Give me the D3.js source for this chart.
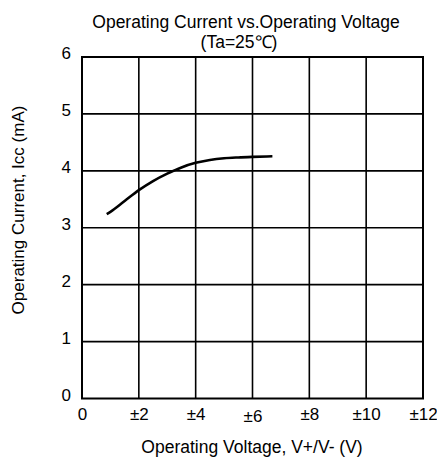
<!DOCTYPE html>
<html>
<head>
<meta charset="utf-8">
<script src="https://cdn.jsdelivr.net/npm/d3@7"></script>
<style>
  html, body { margin: 0; padding: 0; background: #fff; }
  svg { display: block; font-family: Arial, "Liberation Sans", sans-serif; }
</style>
</head>
<body>
<svg id="chart" width="437" height="459"></svg>
<script>
// ---- data ----
const titleLines = ["Operating Current vs.Operating Voltage", "(Ta=25\u2103)"];
const xTickValues = [0, 2, 4, 6, 8, 10, 12];
const xTickLabels = ["0", "\u00b12", "\u00b14", "\u00b16", "\u00b18", "\u00b110", "\u00b112"];
const yTickValues = [0, 1, 2, 3, 4, 5, 6];
const voltage = [0.87, 1.0, 1.5, 2.0, 2.5, 3.0, 3.5, 4.0, 4.5, 5.0, 5.5, 6.0, 6.7];
const current = [3.24, 3.28, 3.47, 3.66, 3.82, 3.95, 4.06, 4.14, 4.19, 4.22, 4.235, 4.245, 4.255];
const xLabel = "Operating Voltage, V+/V- (V)";
const yLabel = "Operating Current, Icc (mA)";

// ---- layout ----
const svg = d3.select("#chart");
const L = 82, R = 423, T = 57, B = 398.5;
const x = d3.scaleLinear().domain([0, 12]).range([L, R]);
const y = d3.scaleLinear().domain([0, 6]).range([B, T]);
const FONT = "Arial, 'Liberation Sans', sans-serif";

// grid
const grid = svg.append("g").attr("stroke", "#000").attr("stroke-width", 1.6);
grid.selectAll("line.v").data(xTickValues.slice(1, -1)).enter().append("line")
  .attr("x1", d => x(d)).attr("x2", d => x(d)).attr("y1", T).attr("y2", B);
grid.selectAll("line.h").data(yTickValues.slice(1, -1)).enter().append("line")
  .attr("y1", d => y(d)).attr("y2", d => y(d)).attr("x1", L).attr("x2", R);

// frame
svg.append("rect").attr("x", L).attr("y", T).attr("width", R - L).attr("height", B - T)
  .attr("fill", "none").attr("stroke", "#000").attr("stroke-width", 2);

// axes (labels only)
const xAxis = d3.axisBottom(x).tickValues(xTickValues).tickSize(0).tickPadding(9)
  .tickFormat((d, i) => xTickLabels[i]);
const gx = svg.append("g").attr("transform", `translate(0,${B})`).call(xAxis);
gx.select(".domain").remove();
gx.selectAll("text").attr("font-size", 17).attr("fill", "#000")
  .attr("font-family", FONT)
  .attr("dy", d => d === 6 ? "0.85em" : "0.71em");

const yAxis = d3.axisLeft(y).tickValues(yTickValues).tickSize(0).tickPadding(11)
  .tickFormat(d3.format("d"));
const gy = svg.append("g").attr("transform", `translate(${L},0)`).call(yAxis);
gy.select(".domain").remove();
gy.selectAll("text").attr("font-size", 17).attr("fill", "#000")
  .attr("font-family", FONT).attr("dy", "0.1em");

// curve
const line = d3.line().x((d, i) => x(voltage[i])).y(d => y(d)).curve(d3.curveMonotoneX);
svg.append("path").datum(current).attr("d", line)
  .attr("fill", "none").attr("stroke", "#000").attr("stroke-width", 2.6);

// titles
svg.append("text").attr("x", 246).attr("y", 28).attr("text-anchor", "middle")
  .attr("font-size", 17.5).text(titleLines[0]);
svg.append("text").attr("x", 239).attr("y", 48).attr("text-anchor", "middle")
  .attr("font-size", 17.5).text(titleLines[1]);

svg.append("text").attr("x", 252).attr("y", 453).attr("text-anchor", "middle")
  .attr("font-size", 17.5).text(xLabel);
svg.append("text").attr("transform", `translate(24,210) rotate(-90)`)
  .attr("text-anchor", "middle").attr("font-size", 17).text(yLabel);
</script>
</body>
</html>
